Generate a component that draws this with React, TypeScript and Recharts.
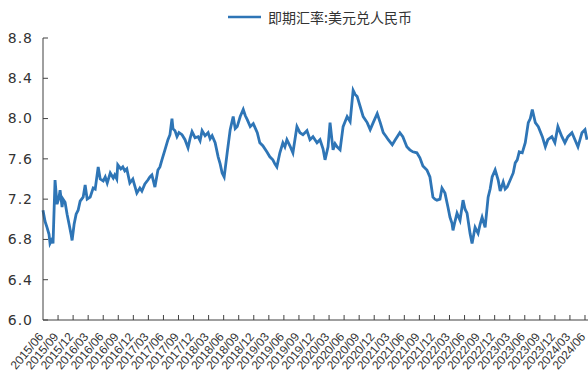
import { LineChart, Line, XAxis, YAxis, Legend } from 'recharts';

// months since 2015/06
const monthOffset = [
  0, 0.4, 0.8, 1.2, 1.4, 1.8, 2.0, 2.4, 2.8, 3.2, 3.4, 3.8, 4.0, 4.4, 4.8, 5.2, 5.6, 5.8, 6.2, 6.6,
  7.0, 7.4, 8.0, 8.4, 8.8, 9.4, 10.0, 10.4, 11.0, 11.4, 12.0, 12.4, 12.8, 13.4, 14.0, 14.3, 14.7, 14.9, 15.5, 15.9,
  16.3, 16.7, 17.3, 17.9, 18.3, 18.7, 19.3, 19.7, 20.3, 20.9, 21.3, 21.7, 22.3, 22.9, 23.3, 23.7, 24.3, 24.9, 25.3, 25.7,
  25.9, 26.3, 26.7, 27.1, 27.7, 28.3, 28.9, 29.3, 29.7, 30.3, 30.9, 31.3, 31.7, 32.3, 32.9, 33.3, 33.7, 34.3, 34.9, 35.3,
  35.7, 36.1, 36.7, 37.3, 37.9, 38.3, 38.7, 39.3, 39.9, 40.3, 40.7, 41.3, 41.9, 42.7, 43.2, 43.8, 44.6, 45.2, 45.8, 46.2,
  46.6, 47.2, 47.8, 48.2, 48.6, 49.2, 49.8, 50.6, 51.2, 51.8, 52.6, 53.2, 53.8, 54.6, 55.2, 55.8, 56.2, 56.8, 57.2, 57.8,
  58.2, 58.6, 59.2, 59.8, 60.6, 61.2, 61.8, 62.2, 62.6, 63.2, 63.8, 64.6, 65.2, 65.8, 66.6, 67.2, 67.8, 68.4, 68.8, 69.6,
  70.2, 71.1, 71.7, 72.5, 73.1, 73.7, 74.5, 75.1, 75.7, 76.5, 77.1, 77.7, 78.1, 78.5, 79.1, 79.5, 80.1, 80.7, 81.1, 81.5,
  81.7, 82.1, 82.5, 83.1, 83.7, 84.1, 84.5, 85.1, 85.5, 86.1, 86.7, 87.1, 87.5, 88.1, 88.7, 89.1, 89.5, 90.1, 90.7, 91.1,
  91.7, 92.1, 92.5, 93.1, 93.7, 94.1, 94.5, 94.9, 95.5, 96.1, 96.7, 97.1, 97.5, 98.1, 98.7, 99.5, 100.1, 100.6, 101.4, 102.0,
  102.6, 103.4, 104.0, 104.6, 105.4, 106.0, 106.6, 107.4, 108.0, 108.4,
];

const rate = [
  7.09, 6.98, 6.92, 6.85, 6.76, 6.8, 6.76, 7.39, 7.15, 7.22, 7.29, 7.12, 7.2, 7.17, 7.05, 6.95, 6.85, 6.79, 6.95, 7.05,
  7.09, 7.18, 7.22, 7.34, 7.2, 7.22, 7.31, 7.3, 7.52, 7.4, 7.38, 7.42, 7.36, 7.46, 7.41, 7.44, 7.4, 7.54, 7.5, 7.52,
  7.48, 7.5, 7.36, 7.4, 7.33, 7.26, 7.31, 7.28, 7.35, 7.39, 7.42, 7.44, 7.32, 7.49, 7.52, 7.59, 7.69, 7.79, 7.84, 8.0,
  7.9, 7.88, 7.82, 7.86, 7.84, 7.79, 7.71, 7.8, 7.87, 7.81, 7.82, 7.78, 7.88, 7.83, 7.86, 7.8, 7.83, 7.76, 7.62, 7.55,
  7.46, 7.42, 7.66, 7.89, 8.02, 7.9, 7.92, 8.02, 8.09, 8.03, 7.99, 7.92, 7.95, 7.86, 7.76, 7.73, 7.67, 7.62, 7.59, 7.55,
  7.52, 7.66, 7.76, 7.72, 7.79, 7.73, 7.66, 7.92, 7.86, 7.84, 7.88, 7.79, 7.82, 7.76, 7.79, 7.7, 7.59, 7.72, 7.96, 7.69,
  7.75, 7.72, 7.69, 7.92, 8.02, 7.97, 8.28, 8.24, 8.22, 8.12, 8.02, 7.96, 7.89, 7.96, 8.05, 7.96, 7.86, 7.82, 7.79, 7.74,
  7.79, 7.86, 7.82, 7.72, 7.69, 7.67, 7.66, 7.61, 7.53, 7.49, 7.42, 7.22, 7.2, 7.19, 7.2, 7.31, 7.26, 7.12, 7.02, 6.96,
  6.89, 6.98, 7.06, 6.99, 7.19, 7.1, 7.06, 6.86, 6.76, 6.92, 6.86, 6.95, 7.02, 6.92, 7.22, 7.3, 7.42, 7.49, 7.39, 7.28,
  7.37, 7.3, 7.32, 7.39, 7.46, 7.56, 7.59, 7.67, 7.66, 7.76, 7.96, 8.0, 8.09, 7.96, 7.92, 7.82, 7.72, 7.79, 7.82, 7.76,
  7.92, 7.82, 7.76, 7.82, 7.86, 7.79, 7.72, 7.86, 7.89, 7.79,
];

const tickLabels = [
  '2015/06', '2015/09', '2015/12', '2016/03', '2016/06', '2016/09', '2016/12', '2017/03', '2017/06', '2017/09',
  '2017/12', '2018/03', '2018/06', '2018/09', '2018/12', '2019/03', '2019/06', '2019/09', '2019/12', '2020/03',
  '2020/06', '2020/09', '2020/12', '2021/03', '2021/06', '2021/09', '2021/12', '2022/03', '2022/06', '2022/09',
  '2022/12', '2023/03', '2023/06', '2023/09', '2023/12', '2024/03', '2024/06',
];

const yTicks = [6.0, 6.4, 6.8, 7.2, 7.6, 8.0, 8.4, 8.8];

const seriesName = '即期汇率:美元兑人民币';

const data = monthOffset.map((m, i) => ({ m, rate: rate[i] }));
const xTicks = tickLabels.map((_, i) => i * 3);

const axisColor = '#404040';
const lineColor = '#2E75B6';

const XTick = ({ x, y, payload }: any) => {
  const label = tickLabels[Math.round(payload.value / 3)];
  return (
    <g>
      {payload.value > 0 && <line x1={x} y1={y} x2={x} y2={y - 5} stroke={axisColor} strokeWidth={1} />}
      <text
        x={x + 1}
        y={y + 17}
        textAnchor="end"
        fontSize={12}
        fill="#333"
        fontFamily="'Liberation Sans', Arial, sans-serif"
        transform={`rotate(-50 ${x + 1} ${y + 17})`}
      >
        {label}
      </text>
    </g>
  );
};

const YTick = ({ x, y, payload }: any) => (
  <g>
    <line x1={x} y1={y} x2={x + 5} y2={y} stroke={axisColor} strokeWidth={1} />
    <text
      x={x - 10}
      y={y}
      dy="0.35em"
      textAnchor="end"
      fontSize={14}
      letterSpacing={1}
      fill="#333"
      fontFamily="'DejaVu Sans', sans-serif"
    >
      {payload.value.toFixed(1)}
    </text>
  </g>
);

const LegendContent = () => (
  <div style={{ height: 28, display: 'flex', alignItems: 'flex-start', paddingLeft: 228 }}>
    <div style={{ display: 'flex', alignItems: 'center', height: 14 }}>
      <svg width={33} height={14}>
        <line x1={0} y1={7} x2={33} y2={7} stroke={lineColor} strokeWidth={2.5} />
      </svg>
      <span
        style={{
          marginLeft: 7,
          fontSize: 14,
          color: '#333',
          fontFamily: "'Noto Sans CJK SC', sans-serif",
          lineHeight: '14px',
        }}
      >
        {seriesName}
      </span>
    </div>
  </div>
);

export default function App() {
  return (
    <div style={{ width: 588, height: 374, background: '#fff' }}>
      <style>{'body{margin:0}'}</style>
      <LineChart width={588} height={374} data={data} margin={{ top: 10, right: 0, bottom: 0, left: 0 }}>
        <Legend verticalAlign="top" align="left" content={<LegendContent />} />
        <XAxis
          dataKey="m"
          type="number"
          domain={[0, 108.6]}
          ticks={xTicks}
          interval={0}
          height={54}
          tickSize={0}
          tickMargin={0}
          stroke={axisColor}
          tick={<XTick />}
        />
        <YAxis
          type="number"
          domain={[6, 8.8]}
          ticks={yTicks}
          interval={0}
          width={43}
          tickSize={0}
          tickMargin={0}
          stroke={axisColor}
          tick={<YTick />}
        />
        <Line
          type="linear"
          dataKey="rate"
          name={seriesName}
          stroke={lineColor}
          strokeWidth={2.8}
          dot={false}
          isAnimationActive={false}
        />
      </LineChart>
    </div>
  );
}
